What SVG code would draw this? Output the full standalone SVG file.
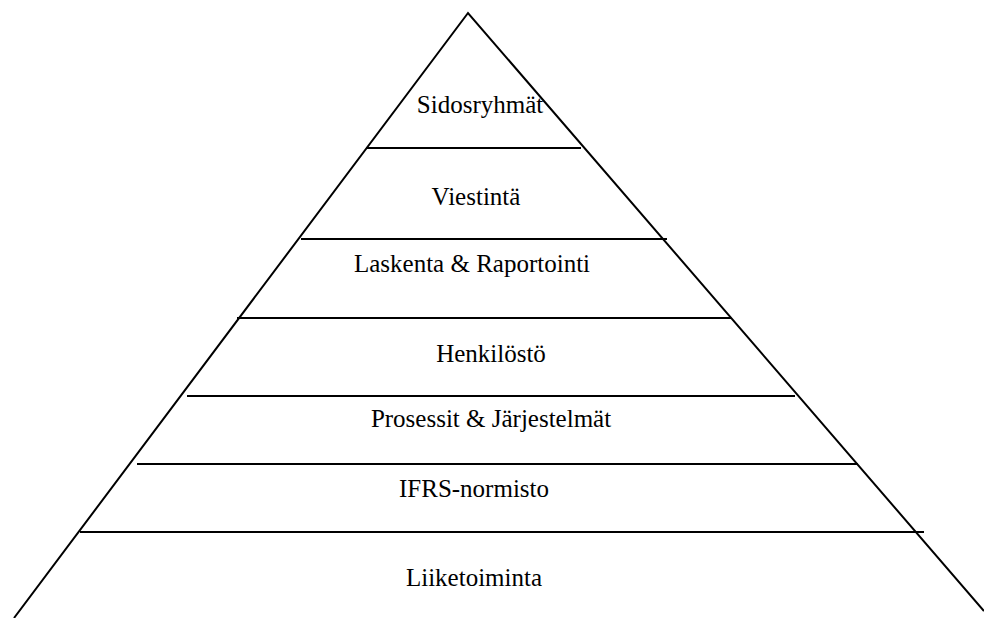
<svg xmlns="http://www.w3.org/2000/svg" width="984" height="618" viewBox="0 0 984 618">
<style>
.ln{stroke:#000;stroke-width:2;fill:none}
.t{font-family:"Liberation Serif","Times New Roman",serif;font-size:25px;fill:#000;text-anchor:middle}
</style>
<rect width="984" height="618" fill="#fff"/>
<g id="connectors">
<polyline class="ln" points="14,618 468,13 984,611"/>
<line class="ln" x1="366" y1="148" x2="581" y2="148"/>
<line class="ln" x1="301" y1="239" x2="667" y2="239"/>
<line class="ln" x1="237" y1="318" x2="731" y2="318"/>
<line class="ln" x1="187" y1="396" x2="795" y2="396"/>
<line class="ln" x1="137" y1="464" x2="858" y2="464"/>
<line class="ln" x1="80" y1="532" x2="924" y2="532"/>
</g>
<g id="n1"><text class="t" x="480" y="113">Sidosryhmät</text></g>
<g id="n2"><text class="t" x="476" y="205">Viestintä</text></g>
<g id="n3"><text class="t" x="472" y="272">Laskenta &amp; Raportointi</text></g>
<g id="n4"><text class="t" x="491" y="362">Henkilöstö</text></g>
<g id="n5"><text class="t" x="491" y="427">Prosessit &amp; Järjestelmät</text></g>
<g id="n6"><text class="t" x="474" y="497">IFRS-normisto</text></g>
<g id="n7"><text class="t" x="474" y="586">Liiketoiminta</text></g>
</svg>
